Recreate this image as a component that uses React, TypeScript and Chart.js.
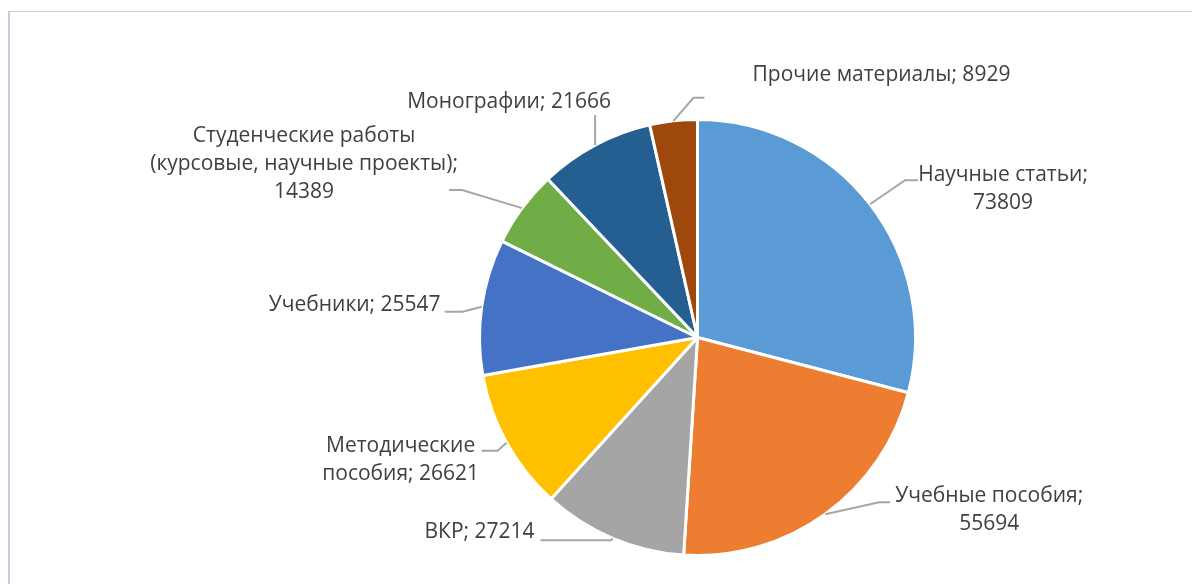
import React, { useEffect, useRef } from "react";
import { Chart, registerables } from "chart.js";

Chart.register(...registerables);

const categories: string[] = [
  "Научные статьи",
  "Учебные пособия",
  "ВКР",
  "Методические пособия",
  "Учебники",
  "Студенческие работы (курсовые, научные проекты)",
  "Монографии",
  "Прочие материалы",
];

const values: number[] = [73809, 55694, 27214, 26621, 25547, 14389, 21666, 8929];

const colors: string[] = [
  "#5B9BD5",
  "#ED7D31",
  "#A5A5A5",
  "#FFC000",
  "#4472C4",
  "#70AD47",
  "#255E91",
  "#9E480E",
];

// label layout (offsets relative to the point on the slice edge at its mid-angle)
const labelLayout = [
  { elbow: [35, -24], end: [48, -24], text: [133, -29], words: [2, 1] },
  { elbow: [54, -12], end: [65, -12], text: [164, -18], words: [2, 1] },
  { elbow: [-1, 2], end: [-72, 2], text: [-133, -6], words: [3] },
  { elbow: [-9, 8], end: [-25, 8], text: [-106, 3], words: [1, 2] },
  { elbow: [-19, 5], end: [-37, 5], text: [-127, -2], words: [2] },
  { elbow: [-60, -18], end: [-73, -18], text: [-218, -72], words: [2, 3, 1] },
  { elbow: [0, -30], end: [0, -30], text: [-86, -43], words: [2] },
  { elbow: [20, -23], end: [31, -23], text: [208, -46], words: [3] },
];

const LABEL_FONT = '21px "Open Sans"';
const LINE_HEIGHT = 28;

const outLabels = {
  id: "outLabels",
  afterDatasetsDraw(chart: any) {
    const ctx = chart.ctx;
    const meta = chart.getDatasetMeta(0);
    ctx.save();
    meta.data.forEach((arc: any, i: number) => {
      const p = arc.getProps(["x", "y", "startAngle", "endAngle", "outerRadius"], true);
      const mid = (p.startAngle + p.endAngle) / 2;
      const ex = p.x + Math.cos(mid) * p.outerRadius;
      const ey = p.y + Math.sin(mid) * p.outerRadius;
      const L = labelLayout[i];
      ctx.strokeStyle = "#A6A6A6";
      ctx.lineWidth = 2;
      ctx.beginPath();
      ctx.moveTo(ex, ey);
      ctx.lineTo(ex + L.elbow[0], ey + L.elbow[1]);
      ctx.lineTo(ex + L.end[0], ey + L.end[1]);
      ctx.stroke();

      const words = `${categories[i]}; ${values[i]}`.split(" ");
      const lines: string[] = [];
      let k = 0;
      L.words.forEach((n) => {
        lines.push(words.slice(k, k + n).join(" "));
        k += n;
      });
      ctx.font = LABEL_FONT;
      ctx.fillStyle = "#404040";
      ctx.textAlign = "center";
      ctx.textBaseline = "middle";
      lines.forEach((ln, j) => {
        ctx.fillText(ln, ex + L.text[0], ey + L.text[1] + j * LINE_HEIGHT);
      });
    });
    ctx.restore();
  },
};

export default function App() {
  const ref = useRef<HTMLCanvasElement | null>(null);
  useEffect(() => {
    if (!ref.current) return;
    const chart = new Chart(ref.current, {
      type: "pie",
      data: {
        labels: categories,
        datasets: [
          {
            data: values,
            backgroundColor: colors,
            borderColor: "#FFFFFF",
            borderWidth: 3,
          },
        ],
      },
      options: {
        animation: false,
        responsive: true,
        maintainAspectRatio: false,
        layout: { padding: { left: 478, top: 118, right: 275, bottom: 27 } },
        plugins: {
          legend: { display: false },
          tooltip: { enabled: false },
        },
      },
      plugins: [outLabels],
    });
    return () => chart.destroy();
  }, []);

  return (
    <div
      style={{
        position: "fixed",
        left: 0,
        top: 0,
        width: 1192,
        height: 584,
        overflow: "hidden",
        background: "#FFFFFF",
      }}
    >
      <div
        style={{
          position: "absolute",
          left: 8,
          top: 11,
          width: 2000,
          height: 2000,
          borderLeft: "2px solid #C3CEDD",
          borderTop: "1px solid #C3CEDD",
        }}
      />
      <div style={{ position: "absolute", left: 0, top: 0, width: 1192, height: 584 }}>
        <canvas ref={ref} />
      </div>
    </div>
  );
}
